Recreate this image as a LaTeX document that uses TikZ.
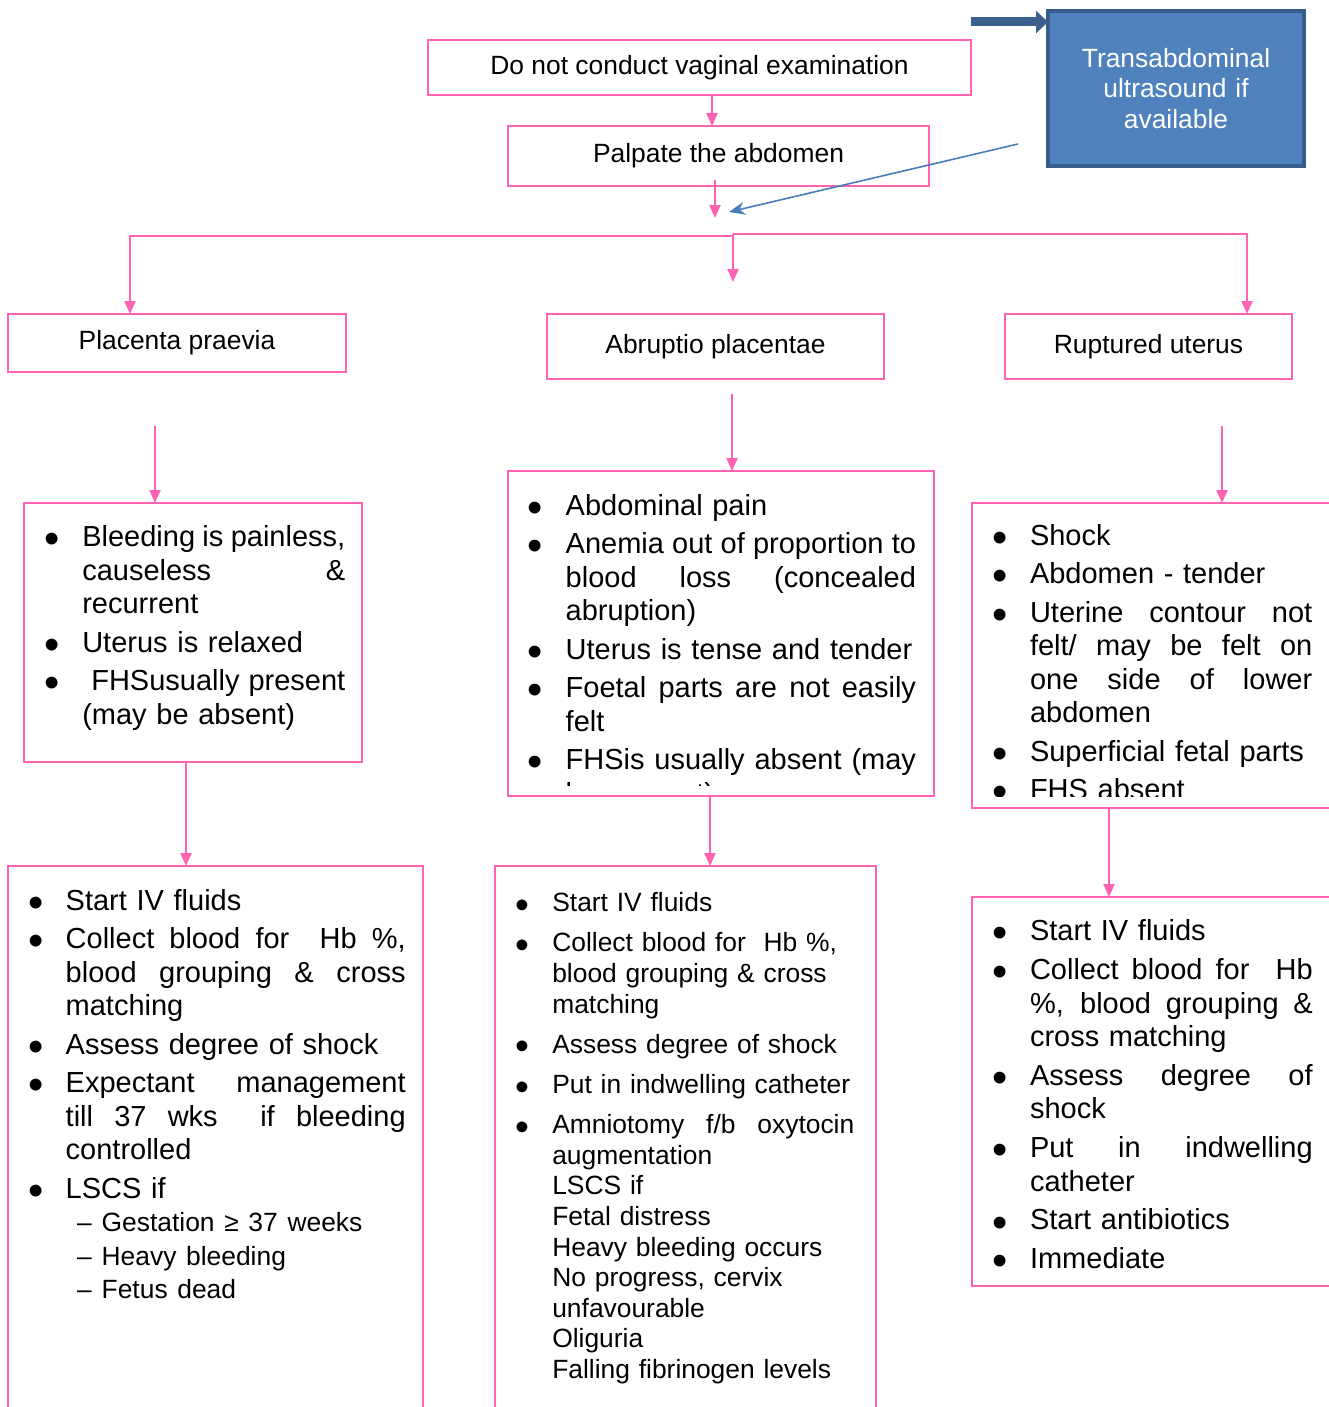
\documentclass[tikz,border=0pt]{standalone}
\usepackage{fontspec}
\setmainfont{Liberation Sans}
\usepackage{graphicx}
\usetikzlibrary{arrows.meta}
\definecolor{pinkc}{RGB}{255,99,178}
\definecolor{bluefill}{RGB}{79,129,189}
\definecolor{blueedge}{RGB}{56,93,138}
\definecolor{bluearr}{RGB}{60,96,142}
\definecolor{bluethin}{RGB}{74,126,187}
\newlength\bd
\newlength\itgap
\setlength{\lineskiplimit}{-10pt}
\newcommand\jbox[1]{\hbox to\linewidth{\spaceskip=.278em plus 1fil minus .12em\relax #1}}
\newcommand\bul{\raisebox{-.25em}{\scalebox{1.5}{•}}}
\newcommand\bmark{\noindent\llap{\makebox[0pt]{\bul}\hspace*{\bd}}}
\newcommand\itA[1]{\par\bmark\hbox{#1}\par}
\newcommand\itJ[1]{\par\bmark\jbox{#1}\par}
\newcommand\lnP[1]{\par\noindent\hbox{#1}\par}
\newcommand\lnJ[1]{\par\noindent\jbox{#1}\par}
\newcommand\igap{\par\vspace{\itgap}}
\begin{document}
\begin{tikzpicture}[x=1pt,y=-1pt,
  pbox/.style={draw=pinkc, line width=2.5pt, rectangle, inner sep=0pt, outer sep=0pt, anchor=north west},
  hdr/.style={pbox, font=\fontsize{26.4}{30.5}\selectfont},
  big/.style={font=\fontsize{29}{33.5}\selectfont, inner sep=0pt, outer sep=0pt, anchor=base west},
  med/.style={font=\fontsize{26.4}{30.6}\selectfont, inner sep=0pt, outer sep=0pt, anchor=base west},
  parrow/.style={draw=pinkc, line width=2.3pt, -{Triangle[length=13pt,width=11pt]}},
  thinblue/.style={draw=bluethin, line width=1.6pt, -{Stealth[length=16pt,width=13pt]}},
]
\useasboundingbox (0,0) rectangle (1328,1407);

% top flow
\node[hdr, minimum width=543pt, minimum height=55pt] (top) at (428,40) {Do not conduct vaginal examination};
\node[hdr, minimum width=421pt, minimum height=60pt] (palp) at (508,126) {Palpate the abdomen};
\node[draw=blueedge, fill=bluefill, line width=4pt, anchor=north west, minimum width=256pt, minimum height=155pt, inner sep=0pt, outer sep=0pt, text=white, text width=250pt, align=center, font=\fontsize{26.4}{30.5}\selectfont] (us) at (1048,11) {Transabdominal\\ultrasound if\\available};

\draw[parrow] ([xshift=12.5pt]top.south) -- ([xshift=-6.5pt]palp.north);
\coordinate (j1) at (715,218);
\draw[parrow] ([xshift=-3.5pt,yshift=6pt]palp.south) -- (j1);
\coordinate (b1) at (1018,144);
\coordinate (j2) at (729,212);
\draw[thinblue] (b1) -- (j2);
\coordinate (b0) at (971,22);
\draw[line width=9pt, draw=bluearr, -{Triangle[length=12pt,width=22pt]}] (b0) -- (b0 -| us.west);

% headers
\node[hdr, minimum width=338pt, minimum height=58pt] (pp) at (8,314) {Placenta praevia};
\node[hdr, minimum width=337pt, minimum height=65pt] (ap) at (547,314) {Abruptio placentae};
\node[hdr, minimum width=287pt, minimum height=65pt] (ru) at (1005,314) {Ruptured uterus};

\coordinate (hL) at (130,236);
\coordinate (hM) at (733,236);
\coordinate (hMr) at (733,234);
\coordinate (hR) at (1247,234);
\coordinate (mEnd) at (733,282);
\draw[parrow] (hM) -- (hL) -- (hL |- pp.north);
\draw[parrow] (hMr) -- (hR) -- (hR |- ru.north);
\draw[parrow] (hMr) -- (mEnd);

% boxes
\node[pbox, minimum width=338pt, minimum height=259pt] (pps) at (24,503) {};
\node[pbox, minimum width=426pt, minimum height=325pt] (aps) at (508,471) {};
\node[pbox, minimum width=380pt, minimum height=305pt] (rus) at (972,503) {};
\node[pbox, minimum width=415pt, minimum height=560pt] (ppt) at (8,866) {};
\node[pbox, minimum width=381pt, minimum height=560pt] (apt) at (495,866) {};
\node[pbox, minimum width=380pt, minimum height=389pt] (rut) at (972,897) {};

\coordinate (p1) at (155,426);
\draw[parrow] (p1) -- (p1 |- pps.north);
\coordinate (a1) at (732,394);
\draw[parrow] (a1) -- (a1 |- aps.north);
\coordinate (r1) at (1222,426);
\draw[parrow] (r1) -- (r1 |- rus.north);

\coordinate (x1) at (186,0);
\draw[parrow] (pps.south -| x1) -- (ppt.north -| x1);
\coordinate (x2) at (710,0);
\draw[parrow] (aps.south -| x2) -- (apt.north -| x2);
\coordinate (x3) at (1109,0);
\draw[parrow] (rus.south -| x3) -- (rut.north -| x3);

% texts
\node[big, text width=263pt] (ppsT) at (82.3,513.2) {\setlength\bd{30.6pt}\setlength\itgap{5pt}%
\itJ{Bleeding is painless,}\lnJ{causeless \&}\lnP{recurrent}\igap
\itA{Uterus is relaxed}\igap
\itJ{\hspace*{9pt}FHSusually present}\lnP{(may be absent)}};

\begin{scope}
\clip (508,471) rectangle (934,785);
\node[big, text width=350.3pt] (apsT) at (565.7,481.5) {\setlength\bd{30.7pt}\setlength\itgap{5pt}%
\itA{Abdominal pain}\igap
\itJ{Anemia out of proportion to}\lnJ{blood loss (concealed}\lnP{abruption)}\igap
\itA{Uterus is tense and tender}\igap
\itJ{Foetal parts are not easily}\lnP{felt}\igap
\itJ{FHSis usually absent (may}\lnP{be present)}};
\end{scope}

\begin{scope}
\clip (972,503) rectangle (1328,796);
\node[big, text width=282.3pt] (rusT) at (1030,511.5) {\setlength\bd{30pt}\setlength\itgap{5pt}%
\itA{Shock}\igap
\itA{Abdomen - tender}\igap
\itJ{Uterine contour not}\lnJ{felt/ may be felt on}\lnJ{one side of lower}\lnP{abdomen}\igap
\itA{Superficial fetal parts}\igap
\itA{FHS absent}};
\end{scope}

\node[big, text width=340pt] (pptT) at (65.7,876.5) {\setlength\bd{30pt}\setlength\itgap{5pt}%
\itA{Start IV fluids}\igap
\itJ{Collect blood for\ \ Hb \%,}\lnJ{blood grouping \& cross}\lnP{matching}\igap
\itA{Assess degree of shock}\igap
\itJ{Expectant management}\lnJ{till 37 wks\ \ if bleeding}\lnP{controlled}\igap
\itA{LSCS if}%
{\fontsize{26.4}{33.5}\selectfont
\lnP{\hspace*{11.3pt}\makebox[24.7pt][l]{–}Gestation ≥ 37 weeks}%
\lnP{\hspace*{11.3pt}\makebox[24.7pt][l]{–}Heavy bleeding}%
\lnP{\hspace*{11.3pt}\makebox[24.7pt][l]{–}Fetus dead}\par}};

\node[med, text width=302pt] (aptT) at (552.3,881.1) {\setlength\bd{30pt}\setlength\itgap{9.6pt}%
\itA{Start IV fluids}\igap
\itA{Collect blood for\ \ Hb \%,}\lnP{blood grouping \& cross}\lnP{matching}\igap
\itA{Assess degree of shock}\igap
\itA{Put in indwelling catheter}\igap
\itJ{Amniotomy f/b oxytocin}\lnP{augmentation}\lnP{LSCS if}\lnP{Fetal distress}\lnP{Heavy bleeding occurs}\lnP{No progress, cervix}\lnP{unfavourable}\lnP{Oliguria}\lnP{Falling fibrinogen levels}};

\node[big, text width=282.7pt] (rutT) at (1030,907.2) {\setlength\bd{30pt}\setlength\itgap{5.3pt}%
\itA{Start IV fluids}\igap
\itJ{Collect blood for\ \ Hb}\lnJ{\%, blood grouping \&}\lnP{cross matching}\igap
\itJ{Assess degree of}\lnP{shock}\igap
\itJ{Put in indwelling}\lnP{catheter}\igap
\itA{Start antibiotics}\igap
\itA{Immediate}};
\end{tikzpicture}
\end{document}
